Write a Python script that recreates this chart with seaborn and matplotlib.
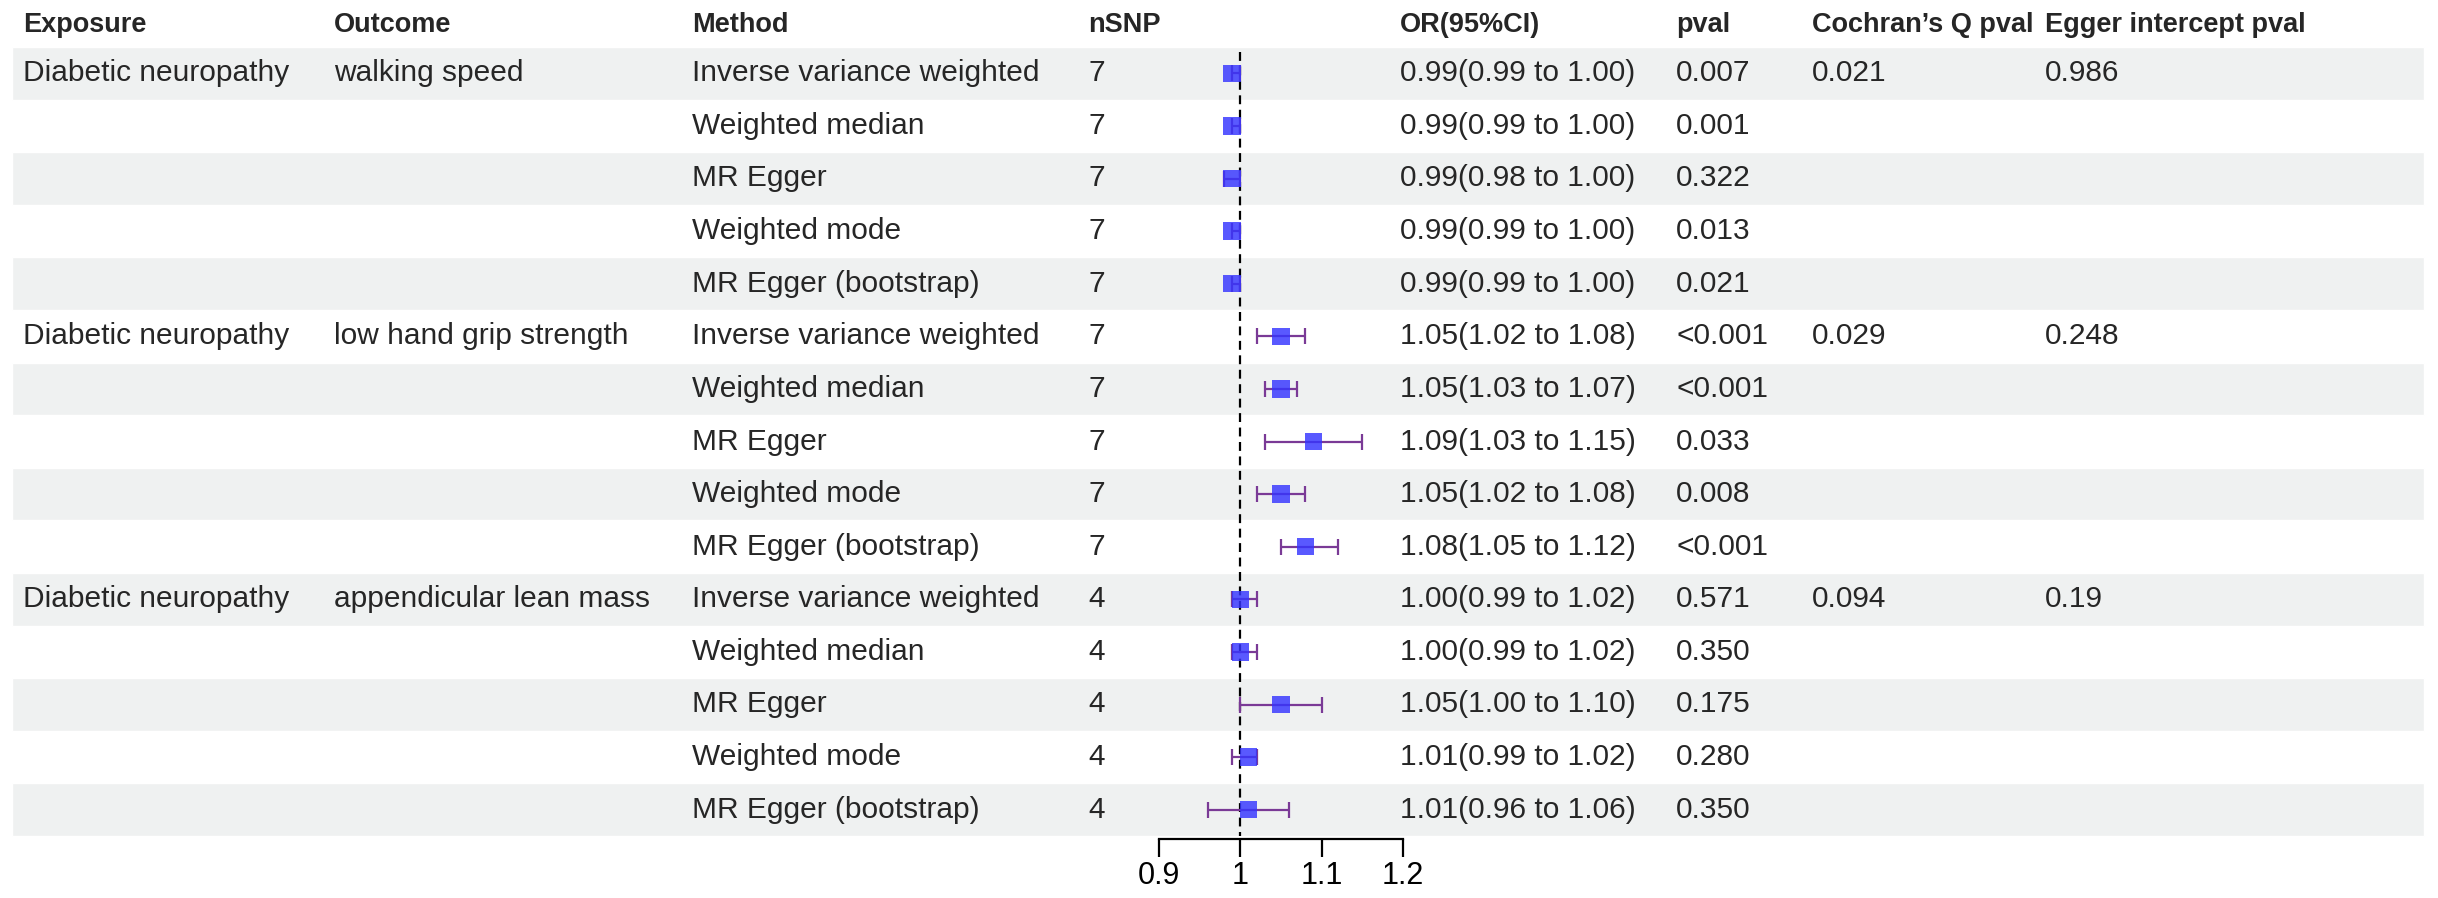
import numpy as np
import pandas as pd
import matplotlib
matplotlib.use('Agg')
import matplotlib.pyplot as plt
import seaborn as sns

# table data
exposure = ['Diabetic neuropathy', '', '', '', '',
            'Diabetic neuropathy', '', '', '', '',
            'Diabetic neuropathy', '', '', '', '']
outcome = ['walking speed', '', '', '', '',
           'low hand grip strength', '', '', '', '',
           'appendicular lean mass', '', '', '', '']
methods = ['Inverse variance weighted', 'Weighted median', 'MR Egger',
           'Weighted mode', 'MR Egger (bootstrap)'] * 3
nsnp = [7] * 10 + [4] * 5
or_est = [0.99, 0.99, 0.99, 0.99, 0.99,
          1.05, 1.05, 1.09, 1.05, 1.08,
          1.00, 1.00, 1.05, 1.01, 1.01]
ci_low = [0.99, 0.99, 0.98, 0.99, 0.99,
          1.02, 1.03, 1.03, 1.02, 1.05,
          0.99, 0.99, 1.00, 0.99, 0.96]
ci_high = [1.00, 1.00, 1.00, 1.00, 1.00,
           1.08, 1.07, 1.15, 1.08, 1.12,
           1.02, 1.02, 1.10, 1.02, 1.06]
pval = ['0.007', '0.001', '0.322', '0.013', '0.021',
        '<0.001', '<0.001', '0.033', '0.008', '<0.001',
        '0.571', '0.350', '0.175', '0.280', '0.350']
cochran_q = ['0.021', '', '', '', '',
             '0.029', '', '', '', '',
             '0.094', '', '', '', '']
egger_int = ['0.986', '', '', '', '',
             '0.248', '', '', '', '',
             '0.19', '', '', '', '']
headers = ['Exposure', 'Outcome', 'Method', 'nSNP', '', 'OR(95%CI)',
           'pval', 'Cochran\u2019s Q pval', 'Egger intercept pval']
x_ticks = [0.9, 1, 1.1, 1.2]
x_ticklabels = ['0.9', '1', '1.1', '1.2']

df = pd.DataFrame({'exposure': exposure, 'outcome': outcome, 'method': methods,
                   'nsnp': nsnp, 'or': or_est, 'lo': ci_low, 'hi': ci_high,
                   'pval': pval, 'q': cochran_q, 'egger': egger_int})
df['row'] = np.arange(len(df)) + 0.5
df['or_ci'] = [f'{o:.2f}({l:.2f} to {h:.2f})' for o, l, h in zip(df['or'], df['lo'], df['hi'])]

sns.set_theme(style='white')
plt.rcParams['font.family'] = ['Liberation Sans', 'DejaVu Sans']

W, H = 2438, 898
top, row_h = 47, 52.6
n = len(df)
bottom = top + n * row_h
col_x = [23, 334, 692, 1088, None, 1400, 1676, 1812, 2045]
fx0, fx1 = 1159, 1403

fig = plt.figure(figsize=(W / 100, H / 100), dpi=100)
ax = fig.add_axes([0, 0, 1, 1])
ax.set_xlim(0, W)
ax.set_ylim(H, 0)
ax.axis('off')

# alternating row bands
yc = top + df['row'] * row_h
shade = df.index % 2 == 0
ax.barh(yc[shade], W - 26, left=12, height=row_h, color='#eff1f1', zorder=0)

fs = 21.5
for x, h in zip(col_x, headers):
    if x is not None:
        ax.text(x, 25, h, fontsize=19.5, fontweight='bold', va='center', ha='left')

cols = ['exposure', 'outcome', 'method', 'nsnp', None, 'or_ci', 'pval', 'q', 'egger']
for x, c in zip(col_x, cols):
    if c is None:
        continue
    for y, v in zip(yc, df[c]):
        ax.text(x, y, str(v), fontsize=fs, va='center', ha='left')

# forest panel
fa = fig.add_axes([fx0 / W, (H - bottom) / H, (fx1 - fx0) / W, (bottom - top) / H])
fa.patch.set_alpha(0)
fa.set_xlim(0.9, 1.2)
fa.set_ylim(n, 0)
fa.vlines(1, 0.1, n, colors='black', linestyles=(0, (4, 2.5)), lw=1.6, zorder=1)
fa.errorbar(df['or'], df['row'], xerr=[df['or'] - df['lo'], df['hi'] - df['or']],
            fmt='none', ecolor='#7a3a96', elinewidth=1.6, capsize=5.5, capthick=1.6, zorder=2)
sns.scatterplot(data=df, x='or', y='row', marker='s', s=160, color='#3535ff',
                alpha=0.82, edgecolor='none', ax=fa, zorder=3, legend=False)
fa.set_xlabel('')
fa.set_ylabel('')
fa.set_yticks([])
fa.set_xticks(x_ticks)
fa.set_xticklabels(x_ticklabels)
for s in ['left', 'right', 'top']:
    fa.spines[s].set_visible(False)
fa.spines['bottom'].set_position(('outward', 2))
fa.spines['bottom'].set_linewidth(1.6)
fa.spines['bottom'].set_color('black')
fa.tick_params(axis='x', direction='out', length=13, width=1.6, pad=3, color='black',
               bottom=True, labelsize=22, labelcolor='black')

fig.savefig('out.png', dpi=100)
